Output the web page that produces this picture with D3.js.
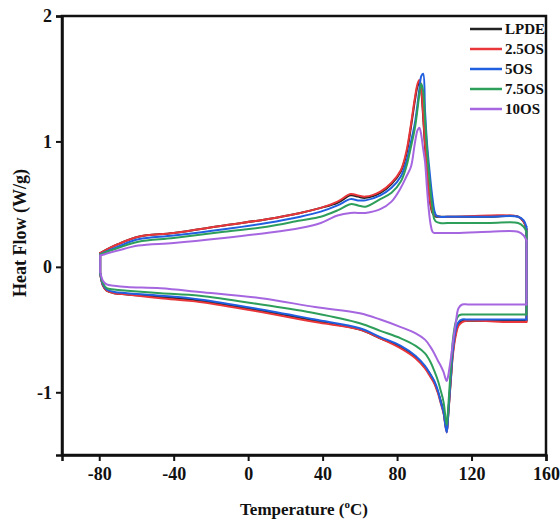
<!DOCTYPE html>
<html><head><meta charset="utf-8">
<script src="https://cdn.jsdelivr.net/npm/d3@7"></script>
<style>body{margin:0;background:#fff;}svg{display:block;}text{font-family:"Liberation Serif","Times New Roman",serif;font-weight:bold;fill:#111;}</style>
</head><body><svg id="c" width="560" height="522"></svg>
<script>
// ---- data ----
const seriesNames = ["LPDE", "2.5OS", "5OS", "7.5OS", "10OS"];
const seriesColors = ["#222222", "#e8363a", "#1f5fe0", "#2e9e5b", "#a566e0"];
const xTicks = [-80, -40, 0, 40, 80, 120, 160];
const yTicks = [-1, 0, 1, 2];

// heating scan temperatures (°C)
const heatT = [-79.5,-70,-59,-40,-13,10,28,39,48,55,59,63,71,77,82,85,87.5,89.5,91,92,93,94,95,96,97,98,99,100,101,103,110,130,145,148,149.5];
const heatLPDE = [0.11,0.18,0.24,0.27,0.33,0.38,0.43,0.47,0.51,0.57,0.56,0.55,0.59,0.66,0.76,0.90,1.12,1.32,1.44,1.47,1.40,1.20,0.96,0.77,0.61,0.49,0.43,0.41,0.40,0.40,0.40,0.40,0.40,0.36,0.30];
const heat25 = [0.11,0.18,0.24,0.27,0.33,0.38,0.43,0.47,0.52,0.58,0.57,0.56,0.60,0.67,0.77,0.92,1.14,1.34,1.46,1.49,1.42,1.22,0.98,0.78,0.62,0.50,0.44,0.41,0.41,0.40,0.40,0.41,0.40,0.36,0.30];
const heat5 = [0.10,0.16,0.22,0.25,0.30,0.35,0.40,0.44,0.49,0.54,0.53,0.53,0.57,0.63,0.72,0.84,1.00,1.14,1.30,1.42,1.52,1.54,1.25,1.00,0.83,0.68,0.55,0.45,0.41,0.40,0.40,0.40,0.40,0.37,0.32];
const heat75 = [0.10,0.15,0.20,0.23,0.28,0.32,0.37,0.40,0.45,0.50,0.49,0.48,0.54,0.59,0.68,0.80,0.96,1.10,1.26,1.38,1.46,1.40,1.18,0.95,0.76,0.60,0.47,0.38,0.36,0.35,0.35,0.35,0.35,0.32,0.28];
const heat10 = [0.09,0.13,0.17,0.19,0.23,0.27,0.31,0.35,0.41,0.43,0.43,0.43,0.46,0.52,0.63,0.72,0.80,0.98,1.09,1.11,1.05,0.94,0.84,0.64,0.46,0.34,0.28,0.27,0.27,0.27,0.27,0.28,0.28,0.25,0.21];

// cooling scan temperatures (°C)
const coolT = [149.5,140,125,118,115,113,111.5,110,109,108,107.3,106.7,106,105,103.5,102,100,98,95,90,82,71,60,36,7,-26,-47,-65,-72,-76,-78,-79.5];
const coolLPDE = [-0.43,-0.43,-0.43,-0.43,-0.43,-0.46,-0.53,-0.68,-0.87,-1.07,-1.21,-1.31,-1.26,-1.16,-1.07,-1.00,-0.92,-0.86,-0.80,-0.72,-0.64,-0.57,-0.50,-0.43,-0.35,-0.27,-0.24,-0.22,-0.21,-0.19,-0.15,-0.05];
const cool25 = [-0.44,-0.44,-0.43,-0.43,-0.44,-0.47,-0.55,-0.70,-0.88,-1.08,-1.22,-1.32,-1.27,-1.17,-1.09,-1.01,-0.93,-0.88,-0.81,-0.73,-0.65,-0.57,-0.50,-0.44,-0.36,-0.28,-0.25,-0.22,-0.21,-0.19,-0.15,-0.05];
const cool5 = [-0.42,-0.42,-0.42,-0.42,-0.42,-0.44,-0.50,-0.66,-0.85,-1.06,-1.22,-1.32,-1.27,-1.16,-1.08,-0.99,-0.91,-0.86,-0.79,-0.71,-0.63,-0.56,-0.49,-0.42,-0.34,-0.26,-0.23,-0.21,-0.20,-0.18,-0.14,-0.05];
const cool75 = [-0.38,-0.38,-0.38,-0.38,-0.38,-0.39,-0.44,-0.58,-0.78,-1.00,-1.16,-1.26,-1.20,-1.08,-0.99,-0.91,-0.83,-0.76,-0.69,-0.63,-0.57,-0.51,-0.45,-0.37,-0.30,-0.23,-0.21,-0.19,-0.18,-0.17,-0.13,-0.05];
const cool10 = [-0.30,-0.30,-0.30,-0.30,-0.30,-0.33,-0.45,-0.60,-0.72,-0.82,-0.88,-0.91,-0.89,-0.84,-0.79,-0.75,-0.69,-0.64,-0.58,-0.53,-0.48,-0.42,-0.37,-0.32,-0.25,-0.20,-0.17,-0.16,-0.15,-0.14,-0.11,-0.04];

const heatValues = [heatLPDE, heat25, heat5, heat75, heat10];
const coolValues = [coolLPDE, cool25, cool5, cool75, cool10];

// ---- drawing ----
const svg = d3.select("#c");
const m = {left: 62, right: 546, top: 16, bottom: 455};
const x = d3.scaleLinear().domain([-100, 160]).range([m.left, m.right]);
const y = d3.scaleLinear().domain([-1.5, 2]).range([m.bottom, m.top]);

const smooth = d3.line().x(d => x(d[0])).y(d => y(d[1])).curve(d3.curveCatmullRom.alpha(0.5));
const straight = d3.line().x(d => x(d[0])).y(d => y(d[1]));

const plot = svg.append("g");
seriesNames.forEach((name, i) => {
  const heat = heatT.map((t, j) => [t, heatValues[i][j]]);
  const cool = coolT.map((t, j) => [t, coolValues[i][j]]);
  const g = plot.append("g").attr("fill", "none").attr("stroke", seriesColors[i])
    .attr("stroke-width", 2).attr("stroke-linejoin", "round").attr("stroke-linecap", "round");
  g.append("path").attr("d", smooth(heat));
  g.append("path").attr("d", smooth(cool));
  g.append("path").attr("d", straight([heat[heat.length - 1], cool[0]]));
  g.append("path").attr("d", straight([cool[cool.length - 1], heat[0]]));
});

// frame
svg.append("rect").attr("x", m.left).attr("y", m.top)
  .attr("width", m.right - m.left).attr("height", m.bottom - m.top)
  .attr("fill", "none").attr("stroke", "#111").attr("stroke-width", 2.5);

const xAxis = svg.append("g").attr("transform", `translate(0,${m.bottom})`)
  .call(d3.axisBottom(x).tickValues(xTicks).tickSize(6).tickPadding(6).tickFormat(d => String(d)));
const yAxis = svg.append("g").attr("transform", `translate(${m.left},0)`)
  .call(d3.axisLeft(y).tickValues(yTicks).tickSize(6).tickPadding(4).tickFormat(d => String(d)));
[xAxis, yAxis].forEach(a => {
  a.select(".domain").attr("stroke", "#111").attr("stroke-width", 2.5);
  a.selectAll(".tick line").attr("stroke", "#111").attr("stroke-width", 2);
  a.selectAll(".tick text").attr("font-size", 18).attr("font-family", "Liberation Serif").attr("font-weight", "bold").attr("fill", "#111");
});

// axis titles
const xt = svg.append("text").attr("x", 304).attr("y", 515).attr("text-anchor", "middle").attr("font-size", 17);
xt.append("tspan").text("Temperature (");
xt.append("tspan").text("o").attr("font-size", 11).attr("dy", -7);
xt.append("tspan").text("C)").attr("dy", 7);

svg.append("text").attr("transform", "translate(26,233) rotate(-90)").attr("text-anchor", "middle")
  .attr("font-size", 18).text("Heat Flow (W/g)");

// legend
const lg = svg.append("g");
seriesNames.forEach((name, i) => {
  const yy = 29 + i * 20;
  lg.append("line").attr("x1", 470).attr("x2", 502).attr("y1", yy).attr("y2", yy)
    .attr("stroke", seriesColors[i]).attr("stroke-width", 2.5);
  lg.append("text").attr("x", 505).attr("y", yy).attr("dy", "0.35em").attr("font-size", 15).text(name);
});
</script></body></html>
